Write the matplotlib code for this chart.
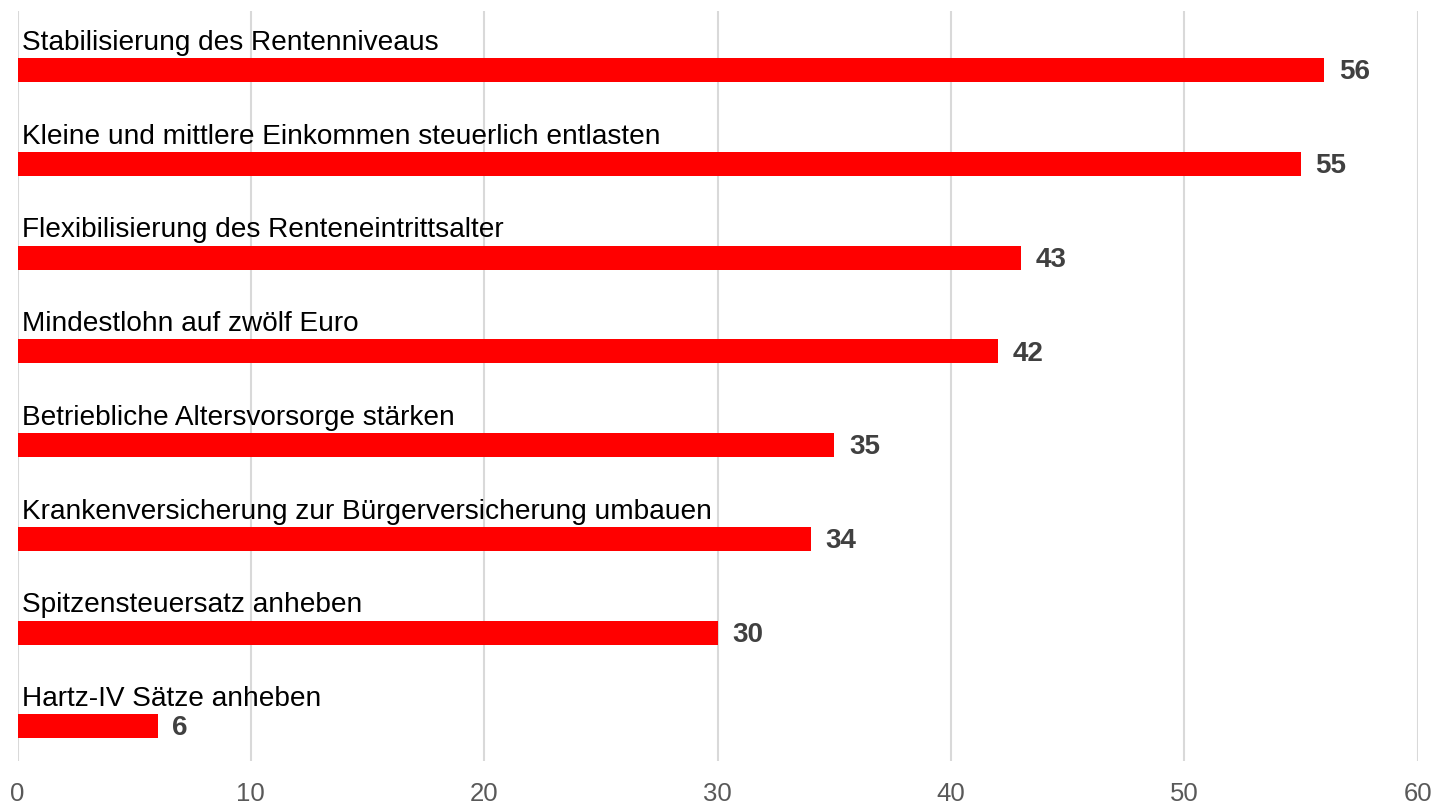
import matplotlib
matplotlib.use("Agg")
import matplotlib.pyplot as plt
import numpy as np

plt.rcParams['font.family'] = ['Liberation Sans', 'DejaVu Sans']

labels = ['Stabilisierung des Rentenniveaus',
          'Kleine und mittlere Einkommen steuerlich entlasten',
          'Flexibilisierung des Renteneintrittsalter',
          'Mindestlohn auf zwölf Euro',
          'Betriebliche Altersvorsorge stärken',
          'Krankenversicherung zur Bürgerversicherung umbauen',
          'Spitzensteuersatz anheben',
          'Hartz-IV Sätze anheben']
values = [56, 55, 43, 42, 35, 34, 30, 6]
xticks = [0, 10, 20, 30, 40, 50, 60]

y = np.arange(len(labels))
bar_h = 0.256

fig = plt.figure(figsize=(14.36, 8.07), dpi=100)
# axes box in pixels: left 17.5, right 1417.7, top 11, bottom 761
ax = fig.add_axes([17.5 / 1436, (807 - 761) / 807, 1400.2 / 1436, 750 / 807])

ax.barh(y, values, height=bar_h, color='#ff0000', zorder=3)

for yi, v, lab in zip(y, values, labels):
    # value at the end of the bar
    ax.annotate(str(v), xy=(v, yi), xytext=(10.5, -1.5), textcoords='offset points',
                ha='left', va='center', fontsize=20, fontweight='bold',
                color='#404040')
    # category label above the bar
    ax.annotate(lab, xy=(0, yi - bar_h / 2), xytext=(3.5, 6), textcoords='offset points',
                ha='left', va='baseline', fontsize=20.2, color='black')

ax.set_xlim(0, 60)
ax.set_ylim(7.37, -0.633)
ax.set_xticks(xticks)
ax.set_yticks([])
ax.tick_params(axis='x', length=0, pad=15, labelsize=18.5, labelcolor='#595959')
ax.grid(axis='x', color='#d9d9d9', linewidth=1.5, zorder=0)
for s in ax.spines.values():
    s.set_visible(False)

fig.savefig("out.png", dpi=100)
